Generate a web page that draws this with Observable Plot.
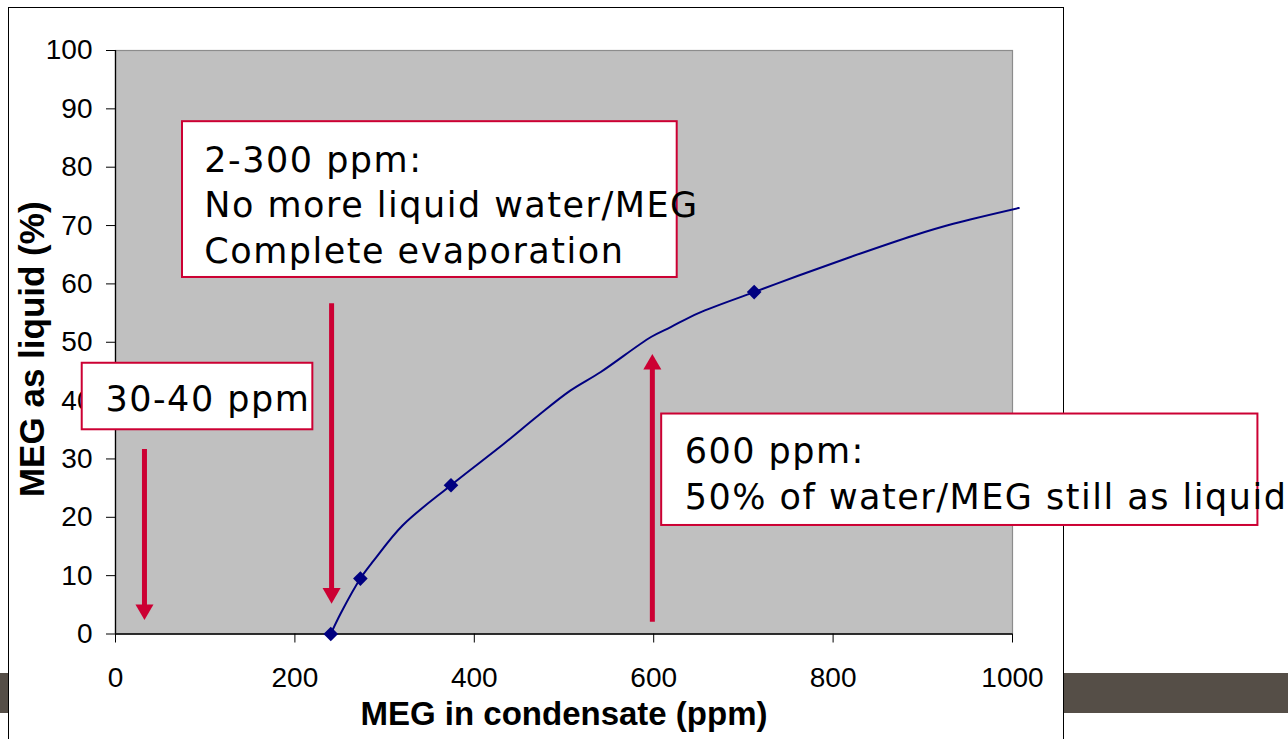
<!DOCTYPE html>
<html><head><meta charset="utf-8">
<script src="https://cdn.jsdelivr.net/npm/d3@7"></script>
<script src="https://cdn.jsdelivr.net/npm/@observablehq/plot@0.6"></script>
<style>
html,body{margin:0;padding:0;background:#fff;}
#stage{position:relative;width:1288px;height:739px;overflow:hidden;background:#fff;}
#bar{position:absolute;left:0;top:673px;width:1288px;height:40px;background:#554e47;}
#sheet{position:absolute;left:8px;top:7px;width:1056px;height:800px;background:#fff;border:1.5px solid #000;box-sizing:border-box;}
#chart{position:absolute;left:0;top:0;}
</style></head><body>
<div id="stage"><div id="bar"></div><div id="sheet"></div><div id="chart"></div></div>
<script>
// axis ticks and labels
const xTicks = [0, 200, 400, 600, 800, 1000];
const yTicks = [0, 10, 20, 30, 40, 50, 60, 70, 80, 90, 100];
const xLabel = "MEG in condensate (ppm)";
const yLabel = "MEG as liquid (%)";

// smoothed curve
const curveX = [240, 251, 273, 288, 320, 374, 433, 471, 507, 541, 597, 619, 650, 712, 761, 821, 890, 934, 1007];
const curveY = [0, 3.5, 9.5, 12.6, 18.6, 25.5, 32.6, 37.4, 41.7, 44.9, 50.9, 52.6, 55.0, 58.6, 61.4, 64.7, 68.3, 70.3, 73.0];

// diamond markers
const markerX = [240, 273, 374, 712];
const markerY = [0, 9.5, 25.5, 58.6];

// annotation boxes (data units)
const noteText = [
  "2-300 ppm:\nNo more liquid water/MEG\nComplete evaporation",
  "30-40 ppm",
  "600 ppm:\n50% of water/MEG still as liquid"
];
const noteX1 = [74.7, -37.1, 608.9];
const noteX2 = [626.2, 220, 1273.6];
const noteYTop = [87.8, 46.4, 37.7];
const noteYBottom = [61.1, 35.0, 18.6];
const noteTextX = [99, -11.2, 634.5];
const noteTextY = [73.9, 40.7, 27.9];

// arrows (data units)
const arrowX = [32.3, 240.9, 598.5];
const arrowFrom = [31.6, 56.6, 2.0];
const arrowTo = [2.4, 5.2, 48.0];

const RED = "#cc0033";
const NAVY = "#000080";
const AXFONT = "'Liberation Sans', Arial, sans-serif";
const NOTEFONT = "DejaVu Sans";

const curve = curveX.map((x, i) => ({x, y: curveY[i]}));
const markers = markerX.map((x, i) => ({x, y: markerY[i]}));
const notes = noteText.map((t, i) => ({t, x1: noteX1[i], x2: noteX2[i], y1: noteYTop[i], y2: noteYBottom[i], tx: noteTextX[i], ty: noteTextY[i]}));
const arrows = arrowX.map((x, i) => ({x, from: arrowFrom[i], to: arrowTo[i], down: arrowFrom[i] > arrowTo[i]}));
const down = arrows.filter(d => d.down);
const up = arrows.filter(d => !d.down);

const plot = Plot.plot({
  width: 1288,
  height: 739,
  marginLeft: 115,
  marginRight: 276,
  marginTop: 50,
  marginBottom: 105.5,
  style: {background: "transparent", fontFamily: AXFONT, overflow: "visible"},
  x: {domain: [0, 1000], axis: null},
  y: {domain: [0, 100], axis: null},
  marks: [
    Plot.frame({fill: "#c0c0c0", stroke: "#8c8c8c", strokeWidth: 1.2}),
    Plot.ruleX([0], {stroke: "#000", strokeWidth: 1.3}),
    Plot.ruleY([0], {stroke: "#000", strokeWidth: 1.3}),
    Plot.axisY(yTicks, {tickSize: 9, tickPadding: 14, fontSize: 28, fontFamily: AXFONT, label: null, stroke: "#000", fill: "#000", tickFormat: d => String(d)}),
    Plot.axisX(xTicks, {tickSize: 9, tickPadding: 24, fontSize: 28, fontFamily: AXFONT, label: null, stroke: "#000", fill: "#000", tickFormat: d => String(d)}),
    Plot.text([xLabel], {text: d => d, frameAnchor: "bottom", dy: 80.5, textAnchor: "middle", lineAnchor: "middle", fontSize: 33, fontWeight: "bold", fontFamily: AXFONT, fill: "#000"}),
    Plot.text([yLabel], {text: d => d, frameAnchor: "left", dx: -82.5, dy: 7, rotate: -90, textAnchor: "middle", lineAnchor: "middle", fontSize: 35, fontWeight: "bold", fontFamily: AXFONT, fill: "#000"}),
    Plot.line(curve, {x: "x", y: "y", curve: "catmull-rom", stroke: NAVY, strokeWidth: 2}),
    Plot.dot(markers, {x: "x", y: "y", symbol: "diamond2", r: 6.6, fill: NAVY, stroke: "none"}),
    Plot.ruleX(down, {x: "x", y1: "from", y2: "to", stroke: RED, strokeWidth: 5, insetBottom: 10}),
    Plot.ruleX(up, {x: "x", y1: "to", y2: "from", stroke: RED, strokeWidth: 5, insetTop: 10}),
    Plot.dot(down, {x: "x", y: "to", symbol: "triangle", r: 6.7, rotate: 180, dy: -10.4, fill: RED, stroke: "none"}),
    Plot.dot(up, {x: "x", y: "to", symbol: "triangle", r: 6.7, dy: 10.4, fill: RED, stroke: "none"}),
    Plot.rect(notes, {x1: "x1", x2: "x2", y1: "y1", y2: "y2", fill: "#fff", stroke: RED, strokeWidth: 2}),
    Plot.text(notes, {x: "tx", y: "ty", text: "t", textAnchor: "start", lineAnchor: "middle", lineHeight: 1.3, fontSize: 35, fontFamily: NOTEFONT, fill: "#000"})
  ]
});
d3.select(plot).selectAll('g[font-family="DejaVu Sans"]').style("letter-spacing", "1.5px");
document.getElementById("chart").appendChild(plot);
</script>
</body></html>
